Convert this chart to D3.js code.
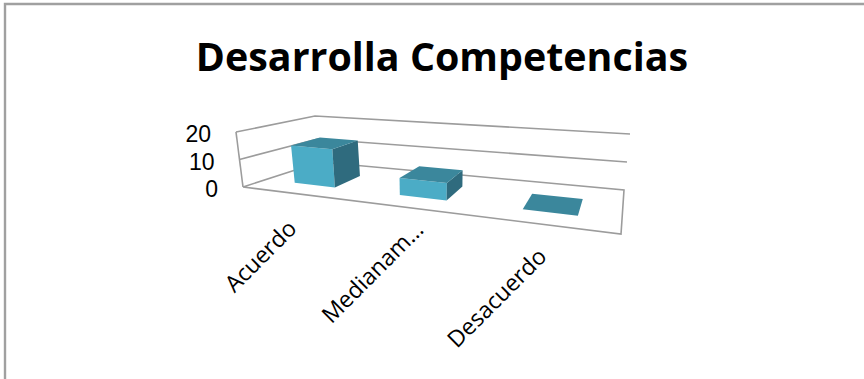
<!DOCTYPE html>
<html><head><meta charset="utf-8">
<script src="https://cdn.jsdelivr.net/npm/d3@7"></script>
<style>html,body{margin:0;padding:0;background:#fff}svg{display:block}text{font-family:"Open Sans","Noto Sans",sans-serif;fill:#000}text.tick{font-family:"Liberation Sans",sans-serif}</style>
</head><body><div id="c"></div>
<script>
const title = "Desarrolla Competencias";
const categories = ["Acuerdo", "Medianamente", "Desacuerdo"];
const categoryLabels = ["Acuerdo", "Medianam…", "Desacuerdo"];
const values = [14, 6, 0];
const valueTicks = [0, 10, 20];

const W = 864, H = 379;
const svg = d3.select("#c").append("svg").attr("width", W).attr("height", H);

// frame: top and left only
svg.append("path").attr("d", `M5,${H}V4H${W}`).attr("fill", "none").attr("stroke", "#a0a0a0").attr("stroke-width", 2.4);

svg.append("text").attr("x", 442).attr("y", 71).attr("text-anchor", "middle")
  .attr("font-size", 39.4).attr("font-weight", 700).text(title);

// 3D box of the plot: corners [front/back][left/right] at floor and at the top
const box = {
  floor: { fl: [243, 187], fr: [621, 234], bl: [320, 162], br: [624, 190] },
  top:   { fl: [236, 132], fr: [630, 166], bl: [315, 116], br: [630, 134] }
};
const yScale = d3.scaleLinear().domain([0, 20]).range([0, 1]);
const band = d3.scaleBand().domain(categories).range([0, 1]).paddingInner(0.6).paddingOuter(0.3);
const persp = 1.27;                                  // foreshortening along the category axis
const warp = t => t / (t + (1 - t) * persp);
const lerp = (a, b, k) => [a[0] + (b[0] - a[0]) * k, a[1] + (b[1] - a[1]) * k];
function corner(level, u, v) {
  return lerp(lerp(box[level].fl, box[level].fr, u), lerp(box[level].bl, box[level].br, u), v);
}
function project(t, v, val) {
  const u = warp(t);
  return lerp(corner("floor", u, v), corner("top", u, v), yScale(val));
}
const line = d3.line();

// walls
const wallColor = "#9c9c9c";
const walls = svg.append("g").attr("fill", "none").attr("stroke", wallColor).attr("stroke-width", 1.6);
walls.append("path").attr("d", line([project(0,0,0), project(1,0,0), project(1,1,0), project(0,1,0), project(0,0,0)]));
walls.append("path").attr("d", line([project(0,0,0), project(0,0,20)]));
valueTicks.slice(1).forEach(t => {
  walls.append("path").attr("d", line([project(0,0,t), project(0,1,t), project(1,1,t)]));
});

// value tick labels, following the tilt of the left wall
svg.append("g").selectAll("text").data(valueTicks).join("text")
  .attr("class", "tick")
  .attr("x", d => project(0,0,d)[0] - 25).attr("y", d => project(0,0,d)[1] + 10)
  .attr("text-anchor", "end").attr("font-size", 23).text(d => d);

// bars
const v0 = 0.3, v1 = 0.7;
const colors = { front: "#4bacc6", side: "#2f6b7e", top: "#3b879c" };
const bars = svg.append("g");
categories.forEach((c, i) => {
  const a = band(c), b = a + band.bandwidth(), h = values[i];
  const g = bars.append("g");
  if (h > 0) {
    g.append("path").attr("fill", colors.front).attr("d", line([project(a,v0,0), project(b,v0,0), project(b,v0,h), project(a,v0,h)]) + "Z");
    g.append("path").attr("fill", colors.side).attr("d", line([project(b,v0,0), project(b,v1,0), project(b,v1,h), project(b,v0,h)]) + "Z");
  }
  g.append("path").attr("fill", colors.top).attr("d", line([project(a,v0,h), project(b,v0,h), project(b,v1,h), project(a,v1,h)]) + "Z");
});

// category labels
const labelEnds = [[298, 230], [425, 231], [548, 258]];
svg.append("g").selectAll("text").data(categoryLabels).join("text")
  .attr("text-anchor", "end").attr("font-size", 23)
  .attr("transform", (d, i) => `translate(${labelEnds[i]}) rotate(-45)`)
  .text(d => d);
</script></body></html>
